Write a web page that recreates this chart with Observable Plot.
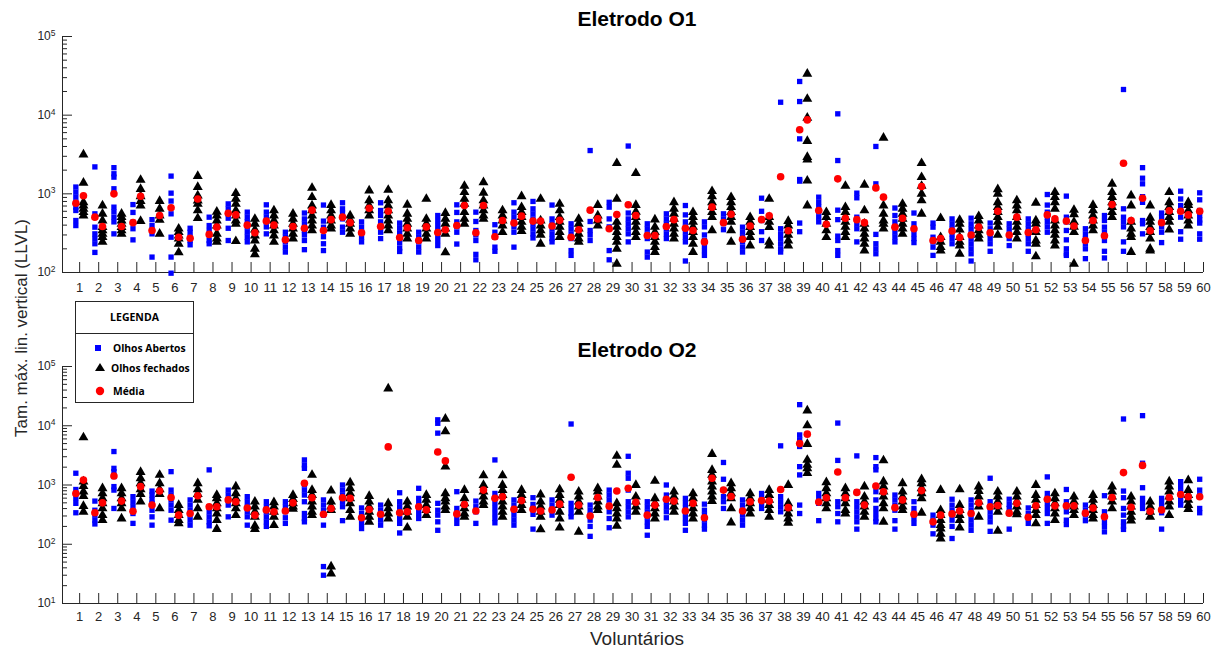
<!DOCTYPE html>
<html><head><meta charset="utf-8">
<script src="https://cdn.jsdelivr.net/npm/d3@7"></script>
<script src="https://cdn.jsdelivr.net/npm/@observablehq/plot@0.6"></script>
<style>
body{margin:0;background:#fff;}
#wrap{position:relative;width:1220px;height:653px;overflow:hidden;font-family:"Liberation Sans",Arial,sans-serif;color:#262626;}
.abs{position:absolute;white-space:nowrap;}
</style></head><body><div id="wrap"></div>
<script>
const voluntarios = [1,2,3,4,5,6,7,8,9,10,11,12,13,14,15,16,17,18,19,20,21,22,23,24,25,26,27,28,29,30,31,32,33,34,35,36,37,38,39,40,41,42,43,44,45,46,47,48,49,50,51,52,53,54,55,56,57,58,59,60];
const yTicksO1 = [100, 1000, 10000, 100000];
const yTicksO2 = [10, 100, 1000, 10000, 100000];

// ---- Eletrodo O1 ----
const o1Abertos = [
[1220,1050,907,780,677,614,458,395],[2200,557,377,310,270,232,180],[2150,1800,1630,1160,677,590,505,440,310],[730,580,435,360,260],[470,395,342,310,157],
[1680,1020,810,557,281,157,98],[365,325,281,255,225],[505,395,342,300,255,232],[745,645,557,490,365,255],[585,505,440,377,325,281,245],
[725,585,505,440,380,310],[325,281,245,210,182],[570,480,416,342,300,255,195],[720,450,377,285,232,190],[770,645,570,480,377,325],
[440,377,325,281,245],[770,614,530,440,377,325,270],[425,370,320,275,240,205,185],[325,281,245,210,182],[530,458,395,342,295,255,220],
[725,580,440,380,325,230],[585,445,342,300,255,170,145],[405,325,281,210,186],[770,585,505,440,380,325,210],[800,645,557,480,416,360,310,275],
[720,480,416,360,310,270,245],[416,360,310,270,190,165],[3550,445,342,300,255],[780,677,480,380,190,145],[4050,570,480,416,360,310,245],
[416,360,310,270,182,157],[557,480,416,360,310,270],[710,540,440,380,325,281,245,140],[440,380,300,255,220,190,165],[557,480,416,350],
[377,325,281,245,210,182],[880,600,458,330,255],[14600,360,310,270,232,200,182],[26800,14900,5000,1520,1450,425,330],[907,780,677,585,505,440],
[10400,2650,620,470,290,255,190,165],[1020,890,505,416,360,245],[4000,1340,305,232,200,173],[660,530,440,380,325,281,245],[570,416,360,310,270,240],
[425,377,281,245,210,165],[480,416,360,310,270,232],[490,416,360,310,270,232,200,173,140],[425,360,310,270,232,186],[416,360,310,270,220],
[480,416,360,310,270,232,186],[980,720,585,505,440,380,325],[935,505,440,342,260,200,173,165],[360,310,270,232,200,150],[530,458,377,325,255,186,153],
[21200,645,505,440,380,245,186],[2150,1580,1340,920,780,458,416,310],[570,505,440,380,325,240],[1080,860,710,614,505,330,265],[1030,840,614,530,465,425,310,265]
];
const o1Fechados = [
[3160,1380,780,710,645,585,530],[710,557,458,377,342,310,281,245],[557,505,458,416,377,342,310],[1500,1150,930,810,710,450],[810,645,530,465,310],
[360,325,295,270,232,180],[1680,1220,950,820,745,614,490],[590,530,458,395,310,270,245],[1020,860,745,614,530,458,416,250],[480,416,350,295,255,200,170],
[614,530,458,395,342,295,245],[557,480,416,360,310,270],[1190,907,710,614,530,458,395,342],[720,614,530,458,395,360],[530,465,416,360,310],
[1100,823,710,614,530],[1120,823,710,614,530,458,395,342],[725,557,480,416,360,310,270],[860,480,416,360,310,270],[570,480,416,360,310,180],
[1260,1050,860,745,585,480,416],[1400,1030,823,710,614,530,480],[614,530,458,395,325],[930,677,585,505,440,380,335],[860,458,395,342,300,232],
[745,614,505,440,380,325,281],[480,416,360,310,270,245],[720,530,458,395],[2450,860,440,380,325,281,245,200,129],[1830,720,590,505,440,380,325,281],
[470,380,325,281,245,210,182],[780,645,557,480,416,360,310,270],[585,505,440,380,325,281,232,182],[1080,930,780,677,585,505,342],[907,780,677,585,505,440,342,245],
[505,440,377,325,281,220],[860,505,440,377,245,220],[450,395,342,300,255,220],[33500,16100,9250,4680,2930,2730,1470,710],[585,505,416,342,281],
[1260,677,585,505,440,380,325,281],[1300,614,416,360,310,270,232,190],[5150,710,557,458,416,360],[745,645,557,480,416,360,310],[2450,1630,1260,1000,823,557],
[490,281,245,210,190],[465,416,350,281,245,220,173],[520,458,395,342,300,270],[1140,1000,780,677,585,505,440,380,300],[823,710,614,505,440,380,325,270],
[770,458,416,360,325,255,232,160],[1050,907,780,645,458,395,342,300,255,220],[625,550,440,380,325,129],[720,614,530,458,395,342],[1340,1050,907,780,677,585,505],
[950,710,440,360,310,281,182],[710,495,440,377,325,270,200,190],[1050,780,677,585,505,440,350],[780,720,614,530,458,395],[]
];
const o1MediaAbertos = [760,505,1000,430,342,665,273,305,565,400,450,260,365,342,505,320,385,278,255,322,395,320,285,425,450,390,281,620,360,725,295,385,365,245,430,265,470,1650,6520,614,1550,470,1190,377,360,255,337,300,320,300,322,540,450,255,293,2450,880,430,600,600];
const o1MediaFechados = [945,385,385,930,530,281,860,377,540,320,400,385,620,470,430,655,600,370,380,350,710,710,458,520,450,460,350,480,545,530,295,470,342,677,550,390,525,340,8700,410,490,430,907,490,1240,270,278,377,600,505,350,480,390,458,730,458,340,610,540,null];

// ---- Eletrodo O2 ----
const o2Abertos = [
[1580,840,720,595,490,340],[535,375,310,255,220],[3670,1910,1680,1390,940,820,402],[635,522,430,330,225],[790,677,570,490,375,290,210],
[1680,820,677,560,458,375,255],[560,458,375,310,255,210],[1800,430,353,290,239,205],[820,677,560,458,290],[635,522,430,353,290,210],
[522,430,353,290,239,200],[522,430,353,280,225],[2650,2180,1910,1000,820,677,522,330,272,239],[560,458,375,310,210,42,30],[1000,820,677,522,430,250],
[410,330,272,225,184],[458,375,310,255,210],[740,522,430,353,272,225,155],[879,595,490,402,330,272],[12600,11000,7500,3670,490,375,310,239,172],
[771,402,330,272,225],[535,430,353,225],[2650,720,595,490,402,330,272,230],[560,458,375,310,255,210],[610,470,402,320,180],
[560,458,375,310],[10700,490,402,330,290],[458,375,310,255,200,136],[820,677,560,458,353,272,190],[3050,1580,1300,820,522,430,353,290],
[522,430,353,290,239,200,142],[1000,677,522,430,353,280],[595,490,402,330,272,225,172],[475,375,310,255,210,180],[2400,1250,820,635,522,402],
[560,458,375,310,255,210],[720,595,490,402],[4580,635,522,430,353],[22700,7000,5800,5100,4470,2040,1480,458,330],[720,595,490,250],
[11100,2600,522,430,330,239],[3100,771,522,430,353,290,239,180],[2900,2040,1800,771,560,402,330,272,239],[677,560,458,375,250,180],[522,402,330,272,225],
[310,255,210,150],[575,458,375,310,255,200,125],[560,458,375,310,255,210,172],[1300,522,430,353,290,239,165],[575,470,402,330,180],
[410,330,272,225],[1370,720,595,490,402,330,225],[840,522,430,353,255,215],[458,375,310,250],[660,353,290,239,200,162],
[13000,790,610,402,310,239,200,178],[14800,2330,900,595,490,402],[595,490,402,340,180],[1140,940,771,635,522,458],[1250,820,677,402,340]
];
const o2Fechados = [
[6350,1140,955,771,650,440,353],[879,720,595,490,402,310,255],[879,720,595,490,402,272],[1650,1300,1070,840,700,522],[1480,1070,840,700,402],
[458,375,310,255,225],[1070,840,700,560,402,290],[677,595,490,402,330,255,180],[940,720,595,490,402,310],[522,430,353,290,205,180],
[510,430,353,290,210],[677,575,490,430,395],[1480,820,677,522,430,353,310],[800,522,430,375,42,32],[1100,880,720,595,490,375,290],
[650,522,430,353,290,239],[42400,490,402,330,272],[522,430,353,290,190],[677,560,458,375,310],[13100,8020,2040,720,595,522,430,375],
[820,595,490,402,330,290],[1450,1000,771,635,522,458],[1450,1000,820,677,522,430,353,290],[820,677,560,458,375],[690,522,430,353,290,178],
[840,677,560,458,353,272,190],[771,635,522,430,353,162],[879,771,635,522,430,375],[3100,2180,490,402,330,272,205],[1000,635,522,430,353],
[1170,595,490,402,330,272],[771,635,522,430,353],[720,595,490,402,330,272],[3330,1790,1480,1140,940,771,635,535],[1070,879,720,595,402,232],
[720,595,490,402,330],[820,677,560,458,375,290],[1000,490,402,330,272,230],[18000,10100,4900,2650,2180,1910,1580],[1110,879,720,595,490,402],
[879,720,595,490,375,330],[940,635,522,430,353,290],[2600,1140,940,771,635,490,402,239],[1070,771,635,522,430,375],[1250,1070,879,720,595,340],
[820,375,310,255,210,184,150,125],[840,458,375,310,255,190],[940,790,635,522,430,290],[771,635,522,430,353,168],[771,635,522,430,353,320],
[1000,677,560,458,375,310,225],[720,595,490,402,330,255],[635,522,430,375,310],[677,560,458,375,310,272],[940,771,635,522,402],
[635,522,430,353,290,250],[522,430,353,290],[1140,940,771,635,522,430,310],[1200,820,677,560,458,390],[]
];
const o2MediaAbertos = [720,340,1420,360,458,615,330,430,560,410,380,365,1070,320,610,280,320,340,430,3600,325,365,595,390,390,380,1350,300,440,880,310,575,365,280,820,365,545,840,5000,515,1660,750,960,415,320,239,325,330,430,335,285,575,445,335,290,1620,2140,380,690,635];
const o2MediaFechados = [1210,500,535,940,790,310,660,430,522,310,353,500,610,402,595,385,4400,353,380,2550,470,820,635,545,365,475,458,615,790,510,458,535,490,1300,640,522,535,415,7220,610,610,458,771,560,805,310,365,500,450,490,445,445,445,410,615,420,360,615,635,null];

const titulos = ["Eletrodo O1", "Eletrodo O2"];
const legendaTitulo = "LEGENDA";
const legendaItens = ["Olhos Abertos", "Olhos fechados", "Média"];
const xLabel = "Voluntários";
const yLabel = "Tam. máx. lin. vertical (LLVL)";

const AXIS = "#262626";
const W = 1220, ML = 62, MR = 17;
const FW = W - ML - MR;
const OFF = 0.2;
const XDOM = [0.1, 60];

function panel(cfg) {
  const {abertos, fechados, mediaA, mediaF, yTicks, height, marginTop, marginBottom, xPad} = cfg;
  const FH = height - marginTop - marginBottom;
  const ptsA = abertos.flatMap((vals, i) => vals.map(v => ({x: voluntarios[i] - OFF, y: v})));
  const ptsF = fechados.flatMap((vals, i) => vals.map(v => ({x: voluntarios[i] + OFF, y: v})));
  const med = [
    ...mediaA.map((v, i) => ({x: voluntarios[i] - OFF, y: v})),
    ...mediaF.map((v, i) => ({x: voluntarios[i] + OFF, y: v}))
  ].filter(d => d.y != null);
  const minors = [];
  for (let k = 0; k < yTicks.length - 1; k++) for (let m = 2; m <= 9; m++) minors.push(yTicks[k] * m);
  const yDom = [yTicks[0], yTicks[yTicks.length - 1]];
  const svg = Plot.plot({
    width: W, height, marginLeft: ML, marginRight: MR, marginTop, marginBottom,
    style: {fontFamily: "'Liberation Sans', Arial, sans-serif", fontSize: "13px", color: AXIS, background: "transparent", overflow: "visible"},
    x: {type: "linear", domain: XDOM, axis: null},
    y: {type: "log", domain: yDom, axis: null},
    marks: [
      Plot.ruleX([XDOM[0]], {stroke: AXIS, strokeWidth: 1}),
      Plot.ruleY([yDom[0]], {stroke: AXIS, strokeWidth: 1}),
      Plot.tickY(yTicks, {stroke: AXIS, insetRight: FW - 10}),
      Plot.tickY(minors, {stroke: AXIS, insetRight: FW - 5}),
      Plot.tickX(voluntarios, {stroke: AXIS, insetTop: FH - 10}),
      Plot.axisX(voluntarios, {tickSize: 0, tickPadding: xPad, label: null, tickFormat: d => String(d), fill: AXIS, fontSize: 13}),
      Plot.axisY(yTicks, {tickSize: 0, tickPadding: 7, label: null, tickFormat: d => String(Math.round(Math.log10(d))), fill: AXIS, fontSize: 12}),
      Plot.dot(ptsA, {x: "x", y: "y", symbol: "square", r: 3, fill: "#0000ff"}),
      Plot.dot(ptsF, {x: "x", y: "y", symbol: "triangle", r: 3.7, fill: "#000000"}),
      Plot.dot(med, {x: "x", y: "y", r: 3.8, fill: "#ff0000"})
    ]
  });
  svg.querySelectorAll('g[aria-label="y-axis tick label"] text').forEach(t => {
    const e = t.textContent;
    t.innerHTML = `10<tspan dy="-0.5em" font-size="8.5">${e}</tspan>`;
  });
  return svg;
}

const wrap = document.getElementById("wrap");
function place(el, left, top) {
  el.style.position = "absolute"; el.style.left = left + "px"; el.style.top = top + "px";
  wrap.appendChild(el);
}

const p1 = panel({abertos: o1Abertos, fechados: o1Fechados, mediaA: o1MediaAbertos, mediaF: o1MediaFechados,
  yTicks: yTicksO1, height: 300, marginTop: 36, marginBottom: 28, xPad: 10});
place(p1, 0, 0);
const p2 = panel({abertos: o2Abertos, fechados: o2Fechados, mediaA: o2MediaAbertos, mediaF: o2MediaFechados,
  yTicks: yTicksO2, height: 290, marginTop: 26, marginBottom: 27, xPad: 8});
place(p2, 0, 340);

function txt(s, css) {
  const d = document.createElement("div");
  d.className = "abs"; d.textContent = s; d.style.cssText += css;
  wrap.appendChild(d); return d;
}
txt(titulos[0], "left:637px;top:6px;transform:translateX(-50%);font-weight:bold;font-size:21px;line-height:26px;color:#000;");
txt(titulos[1], "left:637px;top:337px;transform:translateX(-50%);font-weight:bold;font-size:21px;line-height:26px;color:#000;");
txt(xLabel, "left:637px;top:627px;transform:translateX(-50%);font-size:19px;line-height:24px;color:#262626;");
txt(yLabel, "left:22px;top:328px;transform:translate(-50%,-50%) rotate(-90deg);font-size:17px;line-height:22px;color:#262626;");

// legend
const leg = document.createElement("div");
leg.style.cssText = "position:absolute;left:75px;top:301px;width:117px;height:100px;border:1px solid #262626;background:#fff;box-sizing:content-box;";
const legHead = document.createElement("div");
legHead.textContent = legendaTitulo;
legHead.style.cssText = "height:31px;border-bottom:1px solid #262626;text-align:center;font-family:'Open Sans',sans-serif;font-weight:bold;font-size:10.5px;line-height:31px;color:#000;";
leg.appendChild(legHead);
const ns = "http://www.w3.org/2000/svg";
const lsvg = document.createElementNS(ns, "svg");
lsvg.setAttribute("width", 117); lsvg.setAttribute("height", 68);
lsvg.style.display = "block";
const sym = [
  `<rect x="19" y="11" width="6" height="6" fill="#0000ff"/>`,
  `<path d="M24,29 L29,37 L19,37 Z" fill="#000"/>`,
  `<circle cx="24" cy="57" r="4.2" fill="#ff0000"/>`
];
const ys = [14, 34, 57];
lsvg.innerHTML = sym.join("") + legendaItens.map((s, i) =>
  `<text x="${i === 1 ? 35 : 37}" y="${ys[i]}" dy="0.35em" font-family="'Open Sans',sans-serif" font-weight="bold" font-size="10.3" fill="#000">${s}</text>`).join("");
leg.appendChild(lsvg);
wrap.appendChild(leg);
</script>
</body></html>
